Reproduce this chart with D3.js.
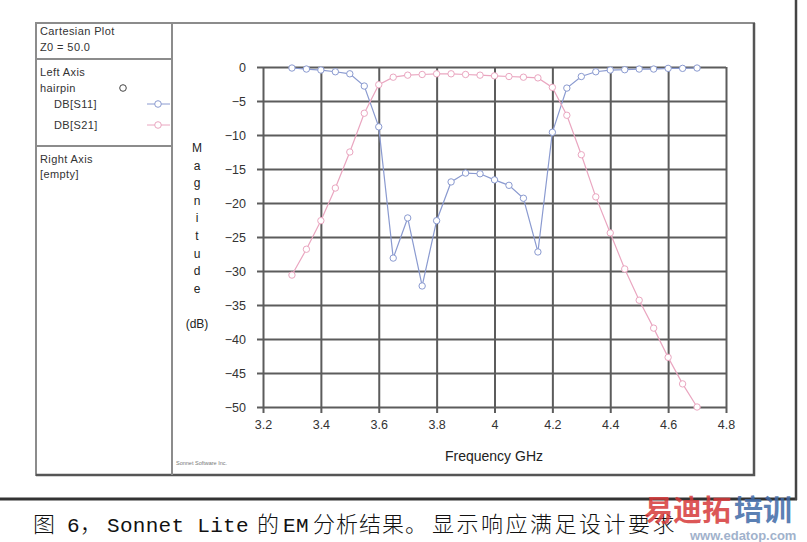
<!DOCTYPE html>
<html>
<head>
<meta charset="utf-8">
<script src="https://cdn.jsdelivr.net/npm/d3@7"></script>
<style>
  body { margin: 0; background: #fff; }
  svg { display: block; font-family: 'Liberation Sans', Arial, sans-serif; }
</style>
</head>
<body>
<div class="vis-sonnet"></div>
<script>
// frequency points (GHz)
const freqs = [3.30, 3.35, 3.40, 3.45, 3.50, 3.55, 3.60, 3.65, 3.70, 3.75,
               3.80, 3.85, 3.90, 3.95, 4.00, 4.05, 4.10, 4.15, 4.20, 4.25,
               4.30, 4.35, 4.40, 4.45, 4.50, 4.55, 4.60, 4.65, 4.70];
// DB[S11]
const s11 = [-0.15, -0.3, -0.45, -0.7, -1.0, -2.8, -8.8, -28.1, -22.2, -32.2,
             -22.6, -16.9, -15.6, -15.7, -16.6, -17.4, -19.3, -27.2, -9.6, -3.1,
             -1.4, -0.7, -0.45, -0.4, -0.3, -0.3, -0.2, -0.2, -0.15];
// DB[S21]
const s21 = [-30.6, -26.8, -22.6, -17.8, -12.5, -6.8, -2.6, -1.5, -1.2, -1.1,
             -1.0, -1.0, -1.1, -1.2, -1.3, -1.4, -1.5, -1.6, -3.0, -7.1,
             -12.9, -19.1, -24.4, -29.7, -34.3, -38.4, -42.7, -46.6, -50.0];

const xTicks = [3.2, 3.4, 3.6, 3.8, 4.0, 4.2, 4.4, 4.6, 4.8];
const yTicks = [0, -5, -10, -15, -20, -25, -30, -35, -40, -45, -50];

const series = [
    { name: 'DB[S11]', values: s11, color: '#8a9ad0' },
    { name: 'DB[S21]', values: s21, color: '#eaa6c0' }
];
const legendLines = ['Cartesian Plot', 'Z0 = 50.0'];
const yLabel = 'Magnitude';
// caption runs: text, mono (latin) or not
const captionRuns = [
    ['图', false], [' 6', true], ['，', false], ['Sonnet Lite', true], ['的', false],
    ['EM', true], ['分析结果。', false], ['显示响应满足设计要求', false]
];
const captionX = [33, 54, 80, 107, 257, 283, 313, 432];

const W = 807, H = 542;
const plot = { left: 263, right: 726, top: 67, bottom: 407 };

const svg = d3.select('.vis-sonnet').append('svg')
    .attr('width', W).attr('height', H);

// outer page box
svg.append('line').attr('x1', 0).attr('x2', 797).attr('y1', 499).attr('y2', 499)
    .attr('stroke', '#333').attr('stroke-width', 3);
svg.append('line').attr('x1', 796).attr('x2', 796).attr('y1', 0).attr('y2', 500)
    .attr('stroke', '#444').attr('stroke-width', 2.5);

// chart frame
svg.append('rect').attr('x', 36).attr('y', 23).attr('width', 718).attr('height', 452)
    .attr('fill', 'none').attr('stroke', '#8c8c8c').attr('stroke-width', 2);
svg.append('polyline').attr('points', '36,475 754,475 754,23')
    .attr('fill', 'none').attr('stroke', '#555').attr('stroke-width', 2.5);

// left info panel
const panel = svg.append('g');
panel.append('line').attr('x1', 172).attr('x2', 172).attr('y1', 23).attr('y2', 475)
    .attr('stroke', '#8c8c8c').attr('stroke-width', 2);
[59, 146].forEach(yy => {
    panel.append('line').attr('x1', 36).attr('x2', 172).attr('y1', yy).attr('y2', yy)
        .attr('stroke', '#8c8c8c').attr('stroke-width', 2);
});
const ptxt = (x, y, t) => panel.append('text').attr('x', x).attr('y', y)
    .attr('font-size', 11).style('letter-spacing', '0.4px').attr('fill', '#333').text(t);
ptxt(40, 35, legendLines[0]);
ptxt(40, 51, legendLines[1]);
ptxt(40, 76, 'Left Axis');
ptxt(40, 92, 'hairpin');
panel.append('circle').attr('cx', 123).attr('cy', 88).attr('r', 3.3)
    .attr('fill', '#fff').attr('stroke', '#444').attr('stroke-width', 1);
series.forEach((s, i) => {
    const yy = 104 + i * 21;
    ptxt(54, yy + 4, s.name);
    panel.append('line').attr('x1', 147).attr('x2', 170).attr('y1', yy).attr('y2', yy)
        .attr('stroke', s.color).attr('stroke-width', 1);
    panel.append('circle').attr('cx', 158).attr('cy', yy).attr('r', 3.3)
        .attr('fill', '#fff').attr('stroke', s.color).attr('stroke-width', 1);
});
ptxt(40, 163, 'Right Axis');
ptxt(40, 178, '[empty]');

// scales
const x = d3.scaleLinear().domain([3.2, 4.8]).range([plot.left, plot.right]);
const y = d3.scaleLinear().domain([-50, 0]).range([plot.bottom, plot.top]);

// grid + y axis (drawn from right edge so ticks poke out left)
const yAxis = svg.append('g')
    .attr('transform', 'translate(' + plot.right + ',0)')
    .call(d3.axisLeft(y).tickValues(yTicks)
        .tickSize(plot.right - plot.left + 6).tickPadding(11));
yAxis.select('.domain').remove();

const xAxis = svg.append('g')
    .attr('transform', 'translate(0,' + plot.top + ')')
    .call(d3.axisBottom(x).tickValues(xTicks)
        .tickSize(plot.bottom - plot.top + 6).tickPadding(7)
        .tickFormat(d => String(+d.toFixed(1))));
xAxis.select('.domain').remove();

svg.selectAll('.tick line').attr('stroke', '#5c5c5c').attr('stroke-width', 2);
svg.selectAll('.tick text').attr('fill', '#333')
    .style('font-size', '12.5px')
    .style('font-family', "'Liberation Sans', Arial, sans-serif");

// axis titles
const yl = svg.append('g').attr('fill', '#222').attr('font-size', 12);
yLabel.split('').forEach((c, i) => {
    yl.append('text').attr('x', 197).attr('y', 152 + i * 17.6)
        .attr('text-anchor', 'middle').text(c);
});
yl.append('text').attr('x', 197).attr('y', 328).attr('text-anchor', 'middle').text('(dB)');

svg.append('text').attr('x', 494).attr('y', 461).attr('text-anchor', 'middle')
    .attr('font-size', 14).attr('fill', '#222').text('Frequency GHz');

svg.append('text').attr('x', 176).attr('y', 465).attr('font-size', 5.5)
    .attr('fill', '#777').text('Sonnet Software Inc.');

// curves
svg.append('clipPath').attr('id', 'plotclip').append('rect')
    .attr('x', plot.left).attr('y', plot.top - 6)
    .attr('width', plot.right - plot.left).attr('height', plot.bottom - plot.top + 10);

const line = d3.line().x(d => x(d[0])).y(d => y(d[1]));
const curves = svg.append('g').attr('clip-path', 'url(#plotclip)');
series.forEach(s => {
    const pts = freqs.map((f, i) => [f, s.values[i]]);
    curves.append('path').datum(pts).attr('d', line)
        .attr('fill', 'none').attr('stroke', s.color).attr('stroke-width', 1.2);
    curves.selectAll(null).data(pts).enter().append('circle')
        .attr('cx', d => x(d[0])).attr('cy', d => y(d[1])).attr('r', 3.2)
        .attr('fill', '#fff').attr('stroke', s.color).attr('stroke-width', 1);
});

// caption
const cap = svg.append('text').attr('y', 532).attr('fill', '#111');
captionRuns.forEach((r, i) => {
    cap.append('tspan').attr('x', captionX[i])
        .style('font-family', r[1] ? "'Liberation Mono', monospace" : "'Noto Sans CJK SC', sans-serif")
        .style('font-size', r[1] ? '21px' : '22px')
        .style('font-weight', r[1] ? 'normal' : '300')
        .style('letter-spacing', r[1] ? '0.3px' : (i === 7 ? '2.5px' : '1px'))
        .text(r[0]);
});

// watermark
const wm = svg.append('g')
    .style('font-family', "'Noto Sans CJK SC', sans-serif")
    .style('font-weight', 'bold').style('font-size', '29px').attr('opacity', 0.85);
wm.append('text').attr('x', 644).attr('y', 521).attr('fill', '#d63a3a').text('易迪拓');
wm.append('text').attr('x', 734).attr('y', 521).attr('fill', '#3f6aa8').text('培训');
svg.append('text').attr('x', 690).attr('y', 540)
    .style('font-size', '13px').style('font-weight', 'bold')
    .attr('fill', '#8aa0c0').attr('opacity', 0.8)
    .text('www.edatop.com');
</script>
</body>
</html>
